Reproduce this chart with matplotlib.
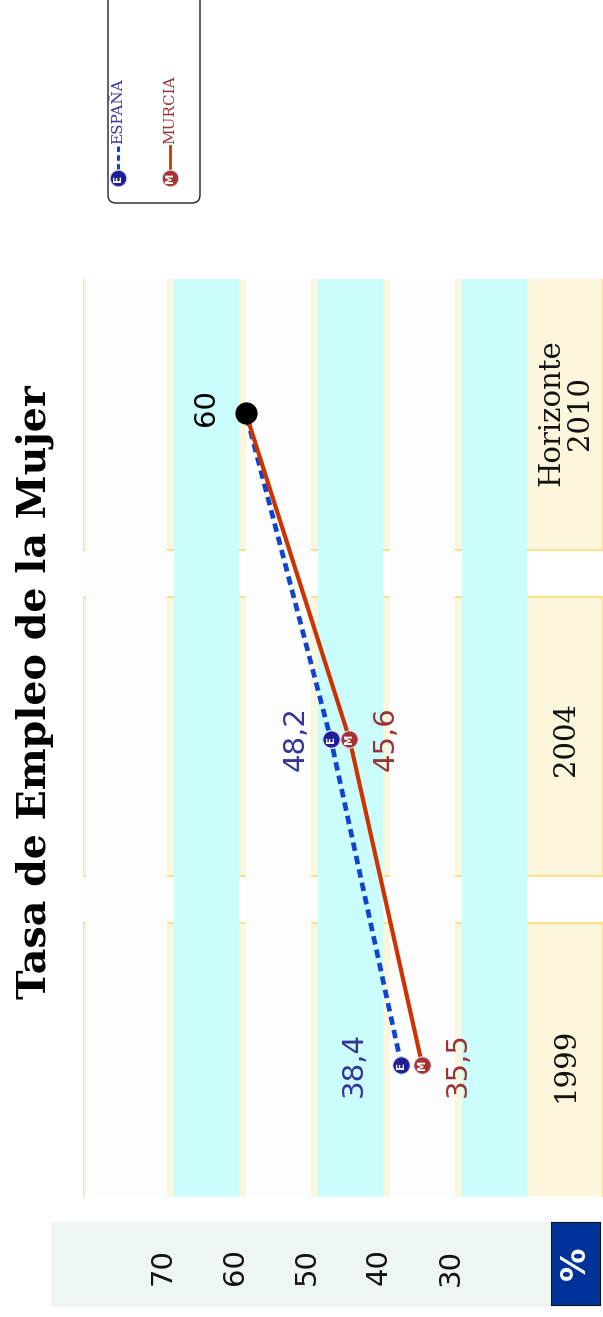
import matplotlib.pyplot as plt
from matplotlib.patches import Rectangle, FancyBboxPatch
from matplotlib.transforms import blended_transform_factory

# Datos (gráfico girado 90°: valores en horizontal, años en vertical)
categorias = ['1999', '2004', 'Horizonte\n2010']
espana = [38.4, 48.2, 60]
murcia = [35.5, 45.6, 60]
objetivo = 60
escala = [70, 60, 50, 40, 30]

W, H = 603, 1317

def caja(x0, y0, x1, y1):
    # de píxeles (origen arriba-izquierda) a fracción de figura
    return [x0 / W, 1 - y1 / H, (x1 - x0) / W, (y1 - y0) / H]

fig = plt.figure(figsize=(W / 100, H / 100), dpi=100)
fig.patch.set_facecolor('white')

ax = fig.add_axes(caja(83, 279, 603, 1197))
ax.set_xlim(82.6, 10.4)
ax.set_ylim(-0.405, 2.411)
ax.axis('off')

pos = list(range(len(categorias)))

# celdas beige de cada año
for i in pos:
    ax.add_patch(Rectangle((82.6, i - 0.42), -72.2, 0.855, facecolor='#FBF6DC',
                           edgecolor='#FFE08A', lw=1.5, zorder=1))

# bandas blancas / cian
for k, d in enumerate(range(70, 10, -10)):
    if d == 20:
        continue
    lo, hi = d + 1, d + 10
    if d == 70:
        hi = 82.2
    color = '#FDFDFD' if k % 2 == 0 else '#CCFDFD'
    ax.axvspan(lo, hi, color=color, lw=0, zorder=2)
ax.axvspan(21, 30, color='#CCFDFD', lw=0, zorder=2)

# líneas
ax.plot(espana, pos, color='#1144CC', lw=3.4, ls=(0, (1.8, 1.1)), zorder=4)
ax.plot(murcia, pos, color='#CC3300', lw=3, zorder=5)
ax.plot([objetivo], [pos[-1]], 'o', color='black', ms=15, zorder=7)

# marcadores con letra
for vals, letra, fc, tc, offs in [(espana, 'E', '#1E1E96', '#333399', [-48, -35]),
                                  (murcia, 'M', '#A83232', '#993333', [36, 36])]:
    ax.plot(vals[:-1], pos[:-1], 'o', ms=12.5, mfc=fc, mec='#DDDDEE', mew=0.8,
            ls='none', zorder=6)
    for v, p, o in zip(vals[:-1], pos[:-1], offs):
        ax.text(v, p, letra, color='white', fontsize=7.5, fontweight='bold',
                rotation=90, ha='center', va='center', zorder=8)
        ax.annotate(f'{v:.1f}'.replace('.', ','), (v, p), xytext=(o, 0),
                    textcoords='offset pixels', color=tc, fontsize=21,
                    rotation=90, ha='center', va='center', zorder=8)

ax.annotate(f'{objetivo}', (objetivo, pos[-1]), xytext=(-40, 5),
            textcoords='offset pixels', color='black', fontsize=21,
            rotation=90, ha='center', va='center', zorder=8)

# etiquetas de categoría
for i, c in zip(pos, categorias):
    ax.text(15.6, i, c, rotation=90, ha='center', va='center',
            fontsize=21, family='DejaVu Serif', color='#111111',
            linespacing=1.05, zorder=8)

# escala inferior
esc = fig.add_axes(caja(51, 1222, 550, 1307), zorder=-1)
esc.set_facecolor('#EEF6F4')
esc.set_xticks([])
esc.set_yticks([])
for s in esc.spines.values():
    s.set_visible(False)
tr = blended_transform_factory(ax.transData, fig.transFigure)
for v in escala:
    ax.text(v + 1.5, 1 - 1267 / H, str(v), transform=tr, rotation=90,
            ha='center', va='center', fontsize=21, color='#111111', clip_on=False)

pc = fig.add_axes(caja(551, 1222, 600, 1305))
pc.set_facecolor('#003399')
pc.set_xticks([])
pc.set_yticks([])
for s in pc.spines.values():
    s.set_color('#111111')
pc.text(0.5, 0.5, '%', rotation=90, ha='center', va='center',
        fontsize=24, fontweight='bold', color='white', transform=pc.transAxes)

# título
fig.text(35 / W, 1 - 692 / H, 'Tasa de Empleo de la Mujer', rotation=90,
         ha='center', va='center', fontsize=28.5, fontweight='bold',
         family='DejaVu Serif')

# leyenda
lg = fig.add_axes(caja(104, 0, 204, 206))
lg.set_xlim(104, 204)
lg.set_ylim(206, 0)
lg.axis('off')
lg.add_patch(FancyBboxPatch((108, -10), 92, 213, boxstyle='round,pad=0,rounding_size=8',
                            facecolor='white', edgecolor='#222222', lw=1))
lg.plot([118, 118], [178, 146], color='#1144CC', lw=2.2, ls=(0, (1.8, 1.1)))
lg.plot([170, 170], [178, 146], color='#CC3300', lw=2)
lg.plot([118], [178], 'o', ms=12, mfc='#1E1E96', mec='#DDDDEE', mew=0.8)
lg.plot([170], [178], 'o', ms=12, mfc='#A83232', mec='#DDDDEE', mew=0.8)
lg.text(118, 178, 'E', color='white', fontsize=7.5, fontweight='bold', rotation=90,
        ha='center', va='center')
lg.text(170, 178, 'M', color='white', fontsize=7.5, fontweight='bold', rotation=90,
        ha='center', va='center')
lg.text(118, 144, 'ESPAÑA', color='#333399', fontsize=11, family='DejaVu Serif',
        rotation=90, ha='center', va='bottom')
lg.text(170, 144, 'MURCIA', color='#993333', fontsize=11, family='DejaVu Serif',
        rotation=90, ha='center', va='bottom')

fig.savefig('out.png', dpi=100)
